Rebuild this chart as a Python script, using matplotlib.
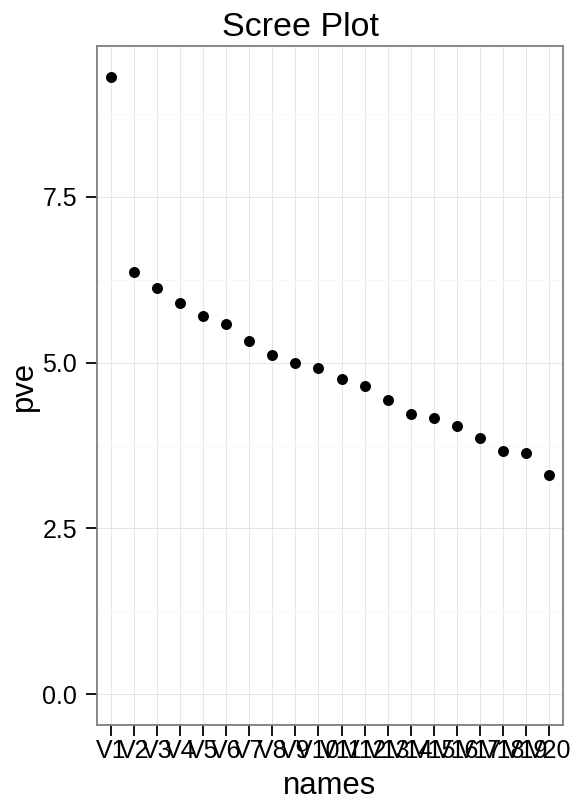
import matplotlib
matplotlib.use("Agg")
import matplotlib.pyplot as plt
from matplotlib.ticker import FixedLocator

names = [f"V{i}" for i in range(1, 21)]
pve = [9.31, 6.37, 6.13, 5.90, 5.71, 5.59, 5.32, 5.11, 5.00, 4.92,
       4.76, 4.65, 4.43, 4.22, 4.16, 4.04, 3.87, 3.67, 3.64, 3.31]
yticks = [0.0, 2.5, 5.0, 7.5]
yticklabels = ["0.0", "2.5", "5.0", "7.5"]

plt.rcParams['font.family'] = ['Liberation Sans', 'DejaVu Sans']

W, H = 576, 801
fig = plt.figure(figsize=(W / 72, H / 72), dpi=72)
ax = fig.add_axes([97 / W, (H - 725) / H, (563 - 97) / W, (725 - 46) / H])

x = list(range(len(names)))
ax.scatter(x, pve, s=11 ** 2, color="black", zorder=3, linewidths=0)

ymax = max(pve)
ax.set_ylim(-0.05 * ymax, ymax * 1.05)
ax.set_xlim(-0.6, len(names) - 1 + 0.6)

ax.set_xticks(x)
ax.set_xticklabels(names)
ax.set_yticks(yticks)
ax.set_yticklabels(yticklabels)
ax.yaxis.set_minor_locator(FixedLocator([1.25, 3.75, 6.25, 8.75]))

ax.grid(True, which="major", color="#E5E5E5", linewidth=1.0, zorder=0)
ax.grid(True, which="minor", axis="y", color="#F7F7F7", linewidth=1.0, zorder=0)
ax.set_axisbelow(True)

for s in ax.spines.values():
    s.set_color("#7F7F7F")
    s.set_linewidth(1.8)

ax.tick_params(axis="both", which="major", length=11, width=2.0, color="#1A1A1A",
               labelsize=25, labelcolor="black")
ax.tick_params(axis="x", which="major", pad=3)
ax.tick_params(axis="y", which="major", pad=9)
ax.tick_params(axis="both", which="minor", length=0)

ax.set_xlabel("names", fontsize=31, labelpad=8)
ax.set_ylabel("pve", fontsize=31, labelpad=3)
fig.text(300 / W, 1 - 36 / H, "Scree Plot", fontsize=34, ha="center", va="baseline")

fig.savefig("out.png", dpi=72, facecolor="white")
